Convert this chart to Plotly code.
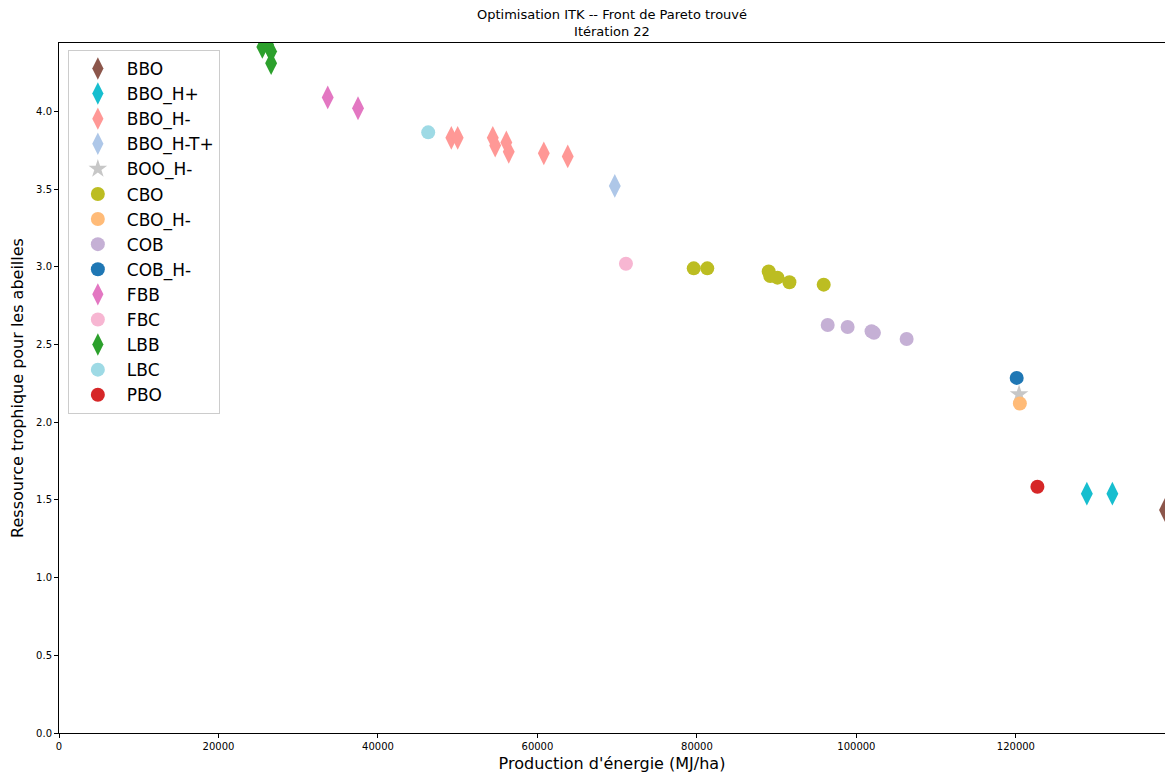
import plotly.graph_objects as go

# ---- data ----
names = ["BBO", "BBO_H+", "BBO_H-", "BBO_H-T+", "BOO_H-", "CBO", "CBO_H-",
         "COB", "COB_H-", "FBB", "FBC", "LBB", "LBC", "PBO"]

bbo_x = [138700]
bbo_y = [1.435]
bbo_hp_x = [128900, 132100]
bbo_hp_y = [1.54, 1.54]
bbo_hm_x = [49200, 50000, 54400, 54700, 56100, 56400, 60800, 63800]
bbo_hm_y = [3.83, 3.83, 3.83, 3.78, 3.80, 3.74, 3.73, 3.71]
bbo_htp_x = [69700]
bbo_htp_y = [3.52]
boo_hm_x = [120400]
boo_hm_y = [2.18]
cbo_x = [79600, 81300, 89000, 89200, 90100, 91600, 95900]
cbo_y = [2.99, 2.99, 2.97, 2.94, 2.93, 2.90, 2.885]
cbo_hm_x = [120500]
cbo_hm_y = [2.12]
cob_x = [96400, 98900, 101900, 102200, 106300]
cob_y = [2.625, 2.613, 2.585, 2.575, 2.535]
cob_hm_x = [120100]
cob_hm_y = [2.285]
fbb_x = [33700, 37500]
fbb_y = [4.09, 4.02]
fbc_x = [71100]
fbc_y = [3.02]
lbb_x = [25500, 26200, 26600, 26600]
lbb_y = [4.415, 4.43, 4.385, 4.31]
lbc_x = [46300]
lbc_y = [3.865]
pbo_x = [122700]
pbo_y = [1.585]

xs = [bbo_x, bbo_hp_x, bbo_hm_x, bbo_htp_x, boo_hm_x, cbo_x, cbo_hm_x,
      cob_x, cob_hm_x, fbb_x, fbc_x, lbb_x, lbc_x, pbo_x]
ys = [bbo_y, bbo_hp_y, bbo_hm_y, bbo_htp_y, boo_hm_y, cbo_y, cbo_hm_y,
      cob_y, cob_hm_y, fbb_y, fbc_y, lbb_y, lbc_y, pbo_y]

colors = ["#8c564b", "#17becf", "#ff9896", "#aec7e8", "#c7c7c7", "#bcbd22", "#ffbb78",
          "#c5b0d5", "#1f77b4", "#e377c2", "#f7b6d2", "#2ca02c", "#9edae5", "#d62728"]
symbols = ["diamond-tall", "diamond-tall", "diamond-tall", "diamond-tall", "star", "circle",
           "circle", "circle", "circle", "diamond-tall", "circle", "diamond-tall", "circle", "circle"]
sizes = [17, 17, 17, 17, 14, 14, 14, 14, 14, 17, 14, 17, 14, 14]

x_ticks = [0, 20000, 40000, 60000, 80000, 100000, 120000]
y_ticks = [0.0, 0.5, 1.0, 1.5, 2.0, 2.5, 3.0, 3.5, 4.0]

fig = go.Figure()
for n, x, y, c, s, sz in zip(names, xs, ys, colors, symbols, sizes):
    fig.add_trace(go.Scatter(
        x=x, y=y, mode="markers", name=n,
        marker=dict(color=c, symbol=s, size=sz, line=dict(width=0)),
    ))

font = "DejaVu Sans"
fig.update_layout(
    width=1165, height=774,
    margin=dict(l=59, r=0, t=43, b=41),
    paper_bgcolor="white", plot_bgcolor="white",
    font=dict(family=font, color="black"),
    title=dict(text="Optimisation ITK -- Front de Pareto trouvé<br>Itération 22",
               x=(59 + 1165) / 2 / 1165, xanchor="center", y=0.975, yanchor="top",
               font=dict(family=font, size=13, color="black")),
    showlegend=True,
    legend=dict(x=0.008, y=0.99, xanchor="left", yanchor="top",
                bgcolor="rgba(255,255,255,0.8)", bordercolor="#cccccc", borderwidth=1,
                font=dict(family=font, size=17, color="black"),
                itemsizing="trace", itemwidth=48),
)
fig.update_xaxes(
    range=[0, 138700], tickvals=x_ticks, ticktext=[str(v) for v in x_ticks],
    showgrid=False, zeroline=False, showline=True, linecolor="black", linewidth=1,
    mirror=True, ticks="outside", ticklen=4, tickcolor="black",
    tickfont=dict(family=font, size=10, color="black"),
    title=dict(text="Production d'énergie (MJ/ha)", font=dict(family=font, size=16, color="black"),
               standoff=6),
)
fig.update_yaxes(
    range=[0, 4.44], tickvals=y_ticks, ticktext=[f"{v:.1f}" for v in y_ticks],
    showgrid=False, zeroline=False, showline=True, linecolor="black", linewidth=1,
    mirror=True, ticks="outside", ticklen=4, tickcolor="black",
    tickfont=dict(family=font, size=10, color="black"),
    title=dict(text="Ressource trophique pour les abeilles", font=dict(family=font, size=16, color="black"),
               standoff=8),
)

fig.write_html("out.html")
